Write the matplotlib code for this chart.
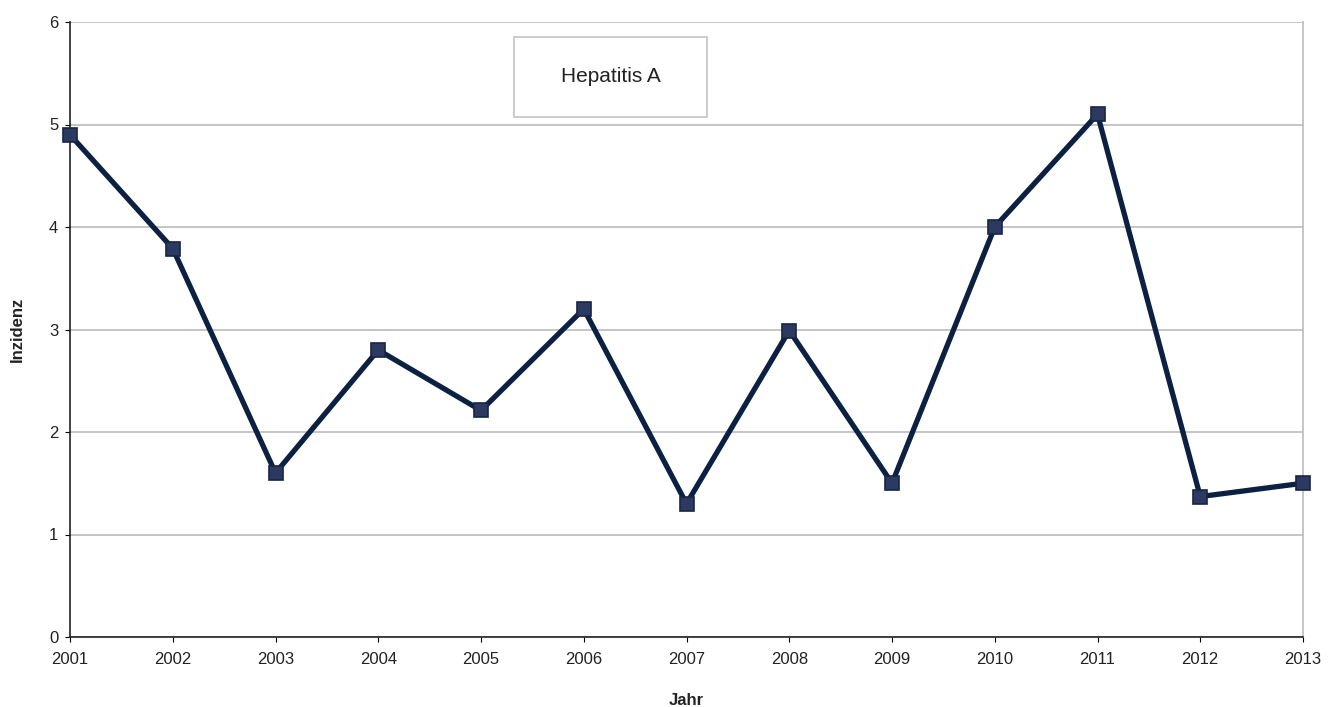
import matplotlib
matplotlib.use("Agg")
import matplotlib.pyplot as plt
from matplotlib.patches import Rectangle

years = [2001, 2002, 2003, 2004, 2005, 2006, 2007, 2008, 2009, 2010, 2011, 2012, 2013]
incidence = [4.9, 3.79, 1.6, 2.8, 2.21, 3.2, 1.3, 2.99, 1.5, 4.0, 5.1, 1.37, 1.5]
yticks = [0, 1, 2, 3, 4, 5, 6]
series_name = "Hepatitis A"

plt.rcParams['font.family'] = ['Liberation Sans', 'DejaVu Sans']

fig = plt.figure(figsize=(13.39, 7.07), dpi=100)
ax = fig.add_axes([70/1339, 1-637/707, (1303-70)/1339, (637-22)/707])

ax.plot(years, incidence, color='#0c2142', lw=3.8, marker='s', markersize=9.8,
        markerfacecolor='#2c3a62', markeredgecolor='#1a2545', markeredgewidth=1.2,
        zorder=3, clip_on=False)

ax.set_xlim(years[0], years[-1])
ax.set_ylim(0, 6)
ax.set_xticks(years)
ax.set_yticks(yticks)
ax.tick_params(axis='both', labelsize=12, length=3.5, direction='out', color='black',
               labelcolor='#222222')
ax.tick_params(axis='x', pad=7)
ax.tick_params(axis='y', pad=5)
ax.grid(axis='y', color='#c0c0c0', lw=1.3)
ax.set_axisbelow(True)
ax.spines['top'].set_visible(False)
ax.spines['right'].set_color('#c0c0c0')
ax.spines['right'].set_linewidth(1.3)
ax.spines['left'].set_color('#222222')
ax.spines['bottom'].set_color('#222222')
ax.spines['left'].set_linewidth(1.2)
ax.spines['bottom'].set_linewidth(1.2)

ax.set_xlabel('Jahr', fontsize=12, fontweight='bold', labelpad=19, color='#222222')
ax.set_ylabel('Inzidenz', fontsize=12, fontweight='bold', labelpad=17, color='#222222')

# legend-like box
bx0, by0, bx1, by1 = 514, 37, 707, 117
fig.patches.append(Rectangle((bx0/1339, 1-by1/707), (bx1-bx0)/1339, (by1-by0)/707,
                             transform=fig.transFigure, facecolor='white',
                             edgecolor='#c8c8c8', lw=1.3, zorder=5))
fig.text((bx0+bx1)/2/1339, 1-(by0+by1)/2/707, series_name, ha='center', va='center',
         fontsize=15, zorder=6, color='#222222')

fig.savefig('out.png', dpi=100)
